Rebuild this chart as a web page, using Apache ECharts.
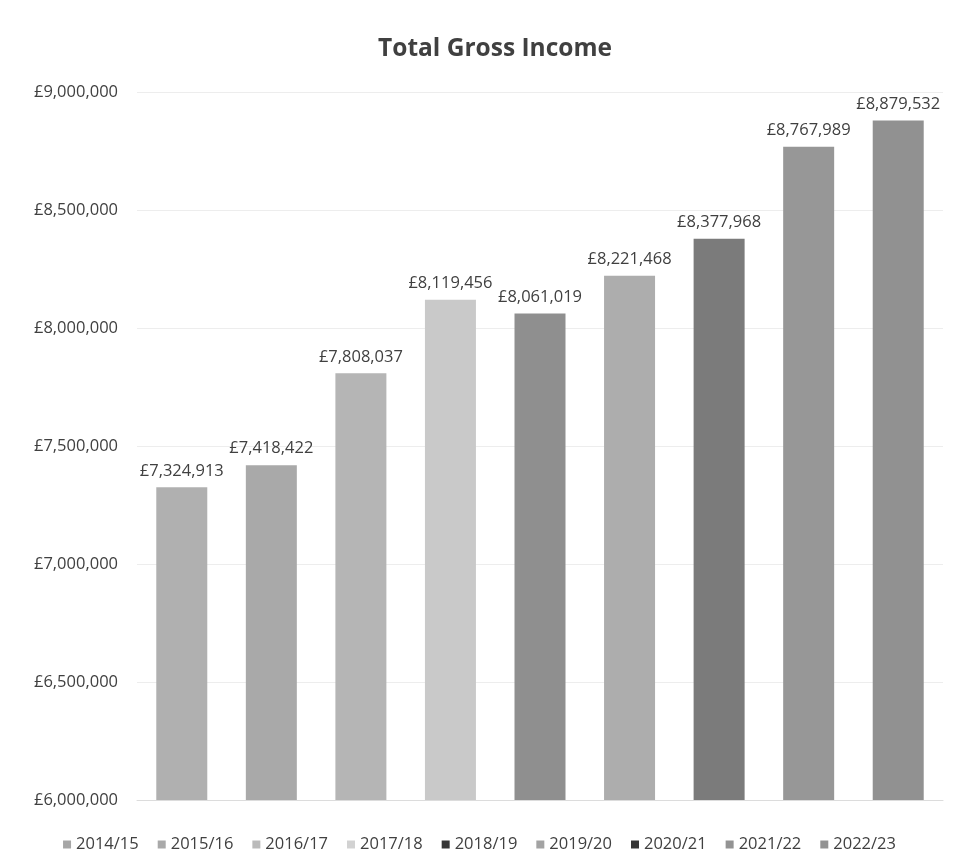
<!DOCTYPE html>
<html>
<head>
<meta charset="utf-8">
<title>Total Gross Income</title>
<script src="https://cdn.jsdelivr.net/npm/echarts@6/dist/echarts.min.js"></script>
<style>
  html, body { margin: 0; padding: 0; background: #fff; }
  #main { width: 959px; height: 865px; }
</style>
</head>
<body>
<div id="main"></div>
<script>
// 年度和数值
var years = ['2014/15', '2015/16', '2016/17', '2017/18', '2018/19', '2019/20', '2020/21', '2021/22', '2022/23'];
var income = [7324913, 7418422, 7808037, 8119456, 8061019, 8221468, 8377968, 8767989, 8879532];
var yTicks = [6000000, 6500000, 7000000, 7500000, 8000000, 8500000, 9000000];

// 柱子颜色（灰度扫描件）
var barColors = ['#b0b0b0', '#a9a9a9', '#b5b5b5', '#c9c9c9', '#8f8f8f', '#adadad', '#7b7b7b', '#979797', '#919191'];
// 图例小方块颜色，和柱子略有不同
var legendColors = ['#a6a6a6', '#a9a9a9', '#bababa', '#d2d2d2', '#353535', '#a3a3a3', '#363636', '#939393', '#929292'];

var fontName = 'Open Sans';
var textColor = '#404040';

function money(v) {
    return '£' + Number(v).toLocaleString('en-GB');
}

var dom = document.getElementById('main');
var myChart = echarts.init(dom);

// 每个年度一个系列，这样图例有9项
var series = years.map(function (y, i) {
    var d = years.map(function () { return null; });
    d[i] = income[i];
    return {
        name: y,
        type: 'bar',
        stack: 'total',
        barWidth: 51,
        data: d,
        itemStyle: { color: barColors[i] },
        label: {
            show: true,
            position: 'top',
            distance: 8,
            color: textColor,
            fontFamily: fontName,
            fontSize: 16.5,
            formatter: function (p) { return money(p.value); }
        }
    };
});

myChart.setOption({
    animation: false,
    title: {
        text: 'Total Gross Income',
        left: 490,
        textAlign: 'center',
        top: 32,
        textStyle: {
            color: textColor,
            fontFamily: fontName,
            fontWeight: 'bold',
            fontSize: 24.5
        }
    },
    legend: {
        bottom: 7,
        left: 'center',
        itemWidth: 8,
        itemHeight: 8,
        itemGap: 19,
        icon: 'rect',
        textStyle: {
            color: textColor,
            fontFamily: fontName,
            fontSize: 16.5
        },
        data: years.map(function (y, i) {
            return { name: y, itemStyle: { color: legendColors[i] } };
        })
    },
    grid: {
        top: 92,
        left: 137,
        right: 16,
        bottom: 65,
        containLabel: false
    },
    xAxis: {
        type: 'category',
        data: years,
        axisLine: { show: true, lineStyle: { color: '#dcdcdc' } },
        axisTick: { show: false },
        axisLabel: { show: false }
    },
    yAxis: {
        type: 'value',
        min: yTicks[0],
        max: yTicks[yTicks.length - 1],
        interval: 500000,
        axisLine: { show: false },
        axisTick: { show: false },
        splitLine: { lineStyle: { color: '#ededed' } },
        axisLabel: {
            color: textColor,
            fontFamily: fontName,
            fontSize: 16.5,
            margin: 19,
            formatter: function (v) { return money(v); }
        }
    },
    series: series
});

window.addEventListener('resize', function () {
    myChart.resize();
});
</script>
</body>
</html>
